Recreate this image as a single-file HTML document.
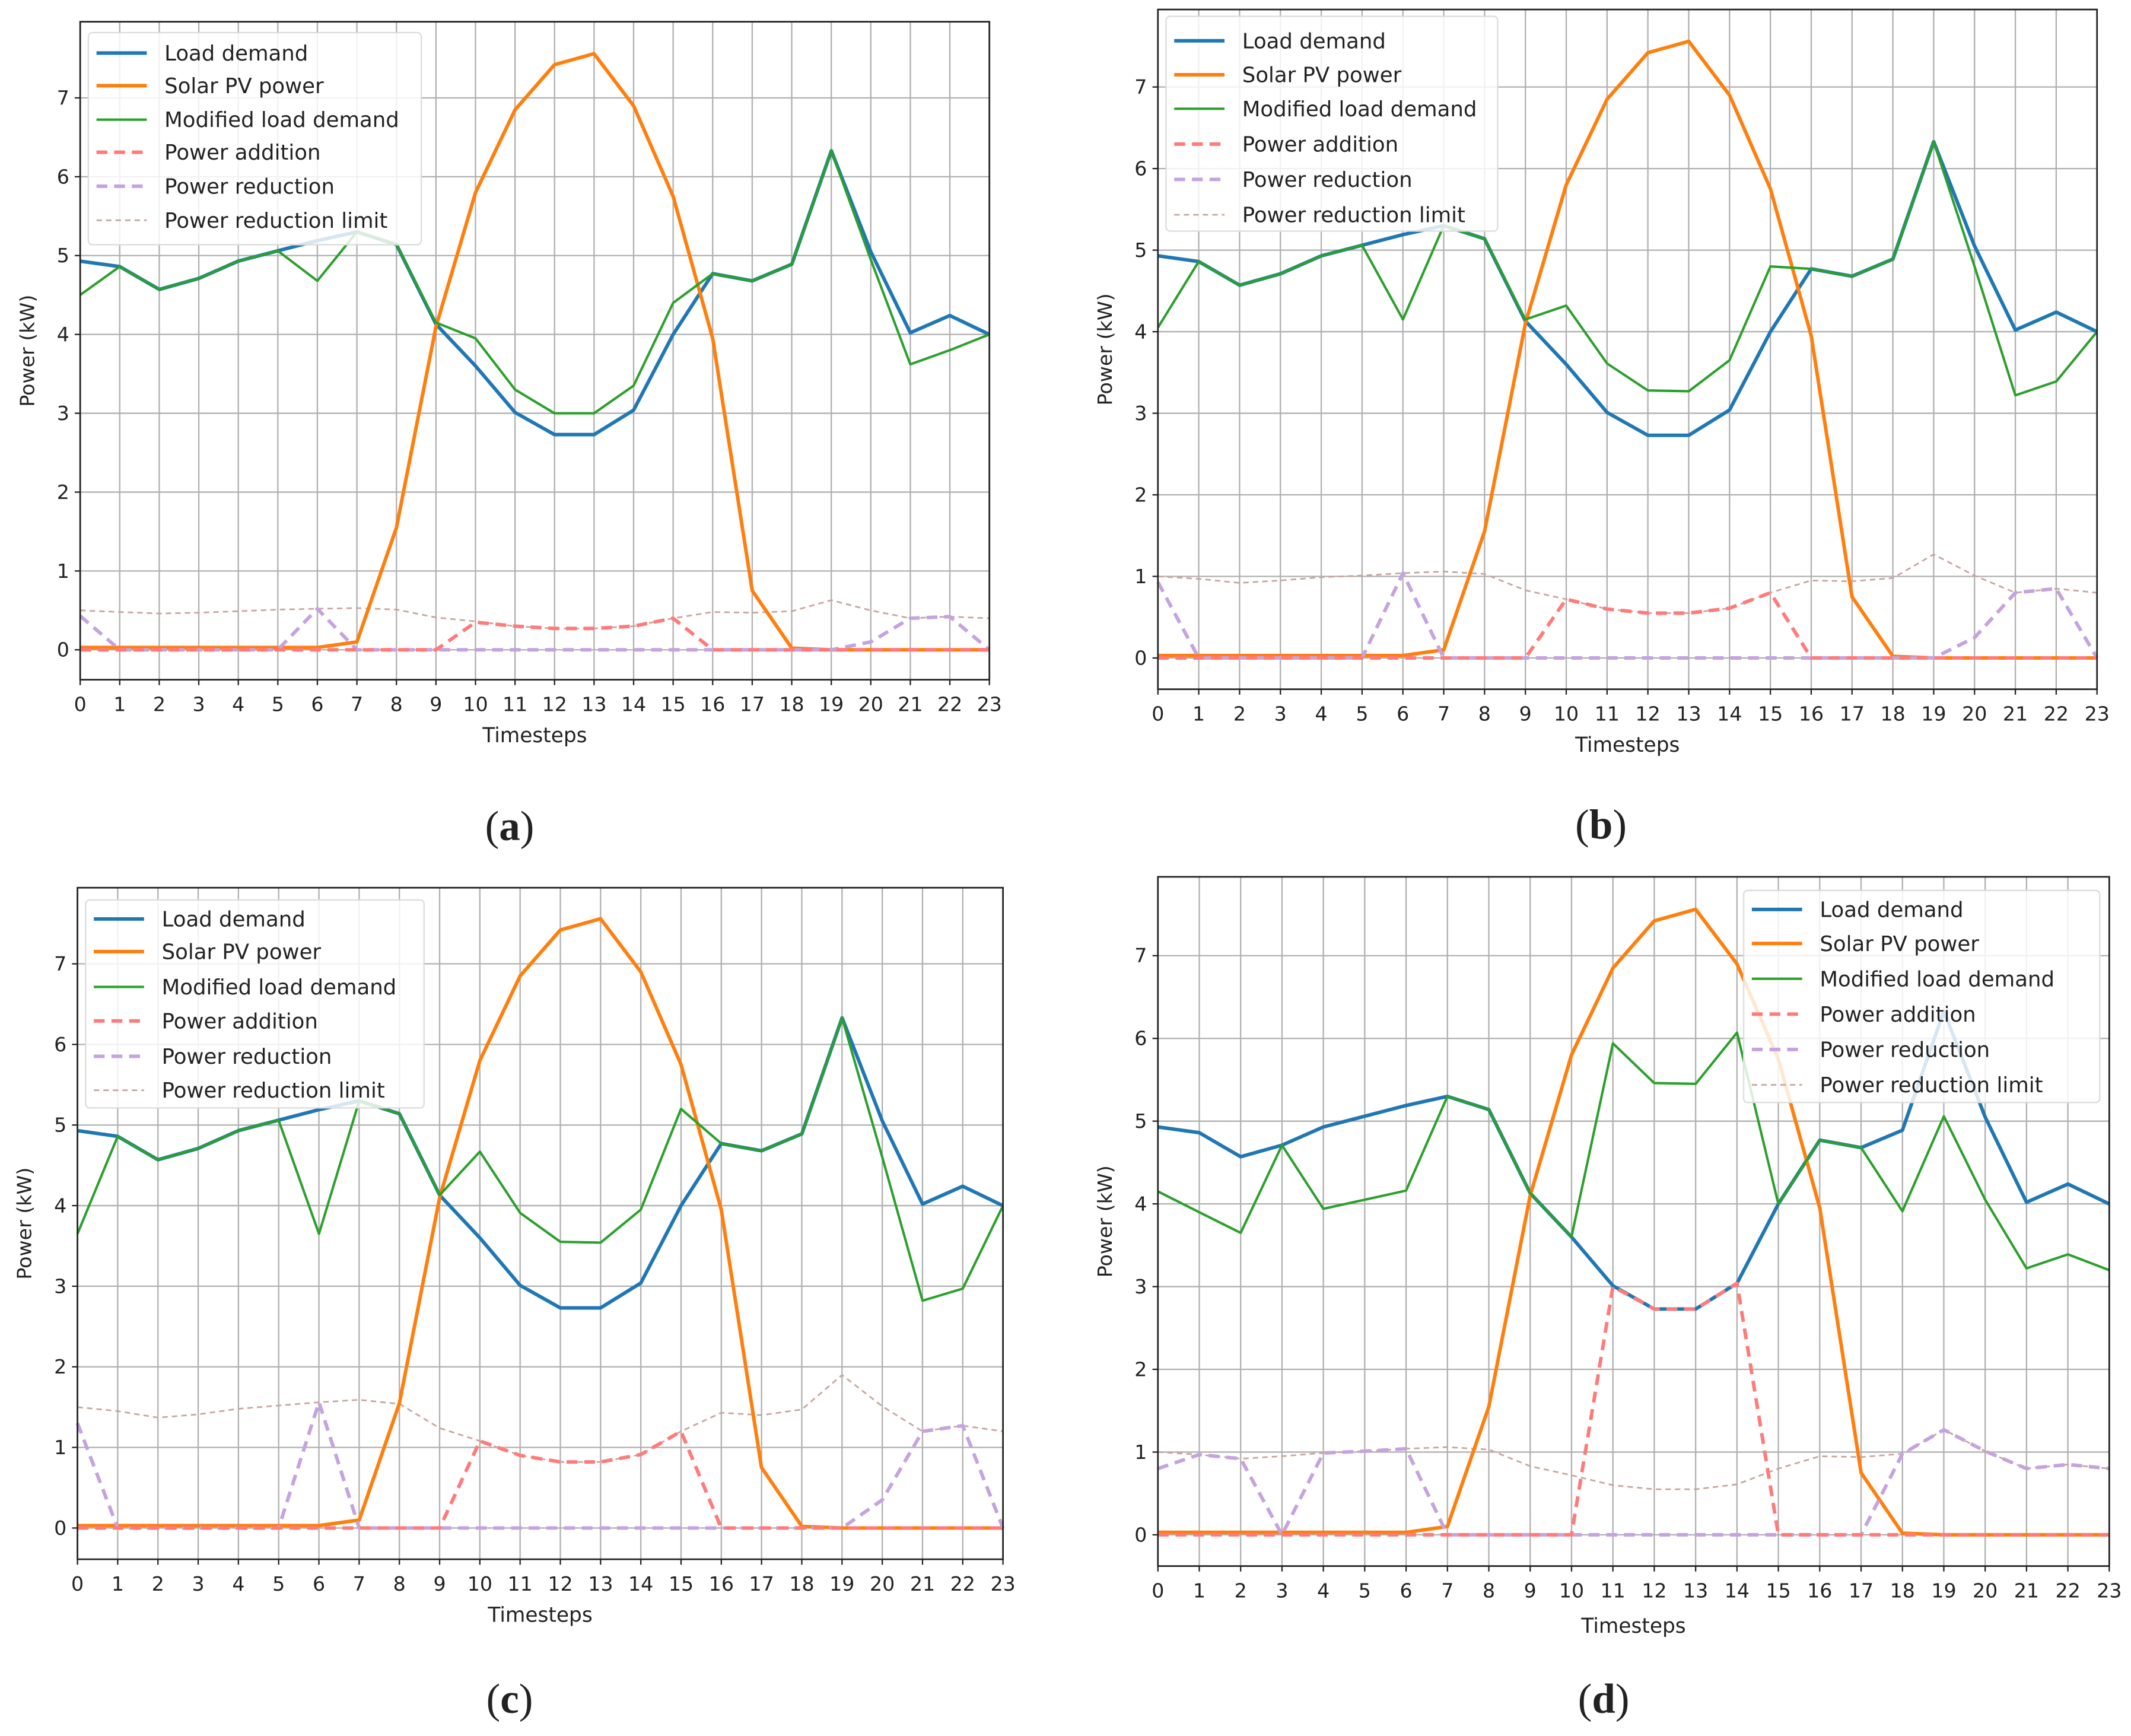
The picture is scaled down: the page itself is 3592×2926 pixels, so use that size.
<!DOCTYPE html>
<html><head><meta charset="utf-8"><style>
html,body{margin:0;padding:0;background:#fff;}
svg{display:block;}
text{font-family:"DejaVu Sans","Liberation Sans",sans-serif;fill:#222;}
.cap{font-family:"Liberation Serif",serif;}
</style></head><body>
<svg id="fig" width="3592" height="2926" viewBox="0 0 1568 1277" preserveAspectRatio="none" xmlns="http://www.w3.org/2000/svg"></svg>
<script>
const hours = [0,1,2,3,4,5,6,7,8,9,10,11,12,13,14,15,16,17,18,19,20,21,22,23];
const yTicks = [0,1,2,3,4,5,6,7];
const loadDemand = [4.93,4.86,4.57,4.71,4.93,5.06,5.19,5.3,5.14,4.13,3.6,3.01,2.73,2.73,3.04,4.0,4.77,4.68,4.89,6.33,5.05,4.02,4.24,4.0];
const solarPV = [0.03,0.03,0.03,0.03,0.03,0.03,0.03,0.1,1.55,4.1,5.8,6.85,7.42,7.56,6.9,5.75,3.95,0.75,0.02,0,0,0,0,0];
const modA = [4.5,4.86,4.57,4.71,4.93,5.06,4.68,5.3,5.14,4.15,3.95,3.3,3.0,3.0,3.35,4.4,4.77,4.68,4.89,6.33,4.95,3.62,3.8,4.0];
const addA = [0,0,0,0,0,0,0,0,0,0,0.35,0.3,0.27,0.27,0.3,0.4,0,0,0,0,0,0,0,0];
const redA = [0.43,0,0,0,0,0,0.52,0,0,0,0,0,0,0,0,0,0,0,0,0,0.1,0.4,0.42,0];
const limA = [0.5,0.48,0.46,0.47,0.49,0.51,0.52,0.53,0.51,0.41,0.36,0.3,0.27,0.27,0.3,0.4,0.48,0.47,0.49,0.63,0.5,0.4,0.42,0.4];
const modB = [4.05,4.86,4.57,4.71,4.93,5.06,4.15,5.3,5.14,4.15,4.32,3.61,3.28,3.27,3.65,4.8,4.77,4.68,4.89,6.33,4.8,3.22,3.39,4.0];
const addB = [0,0,0,0,0,0,0,0,0,0,0.72,0.6,0.55,0.55,0.61,0.8,0,0,0,0,0,0,0,0];
const redB = [0.93,0,0,0,0,0,1.04,0,0,0,0,0,0,0,0,0,0,0,0,0,0.25,0.8,0.85,0];
const limB = [1.0,0.97,0.92,0.95,0.99,1.01,1.04,1.06,1.03,0.83,0.72,0.6,0.55,0.55,0.61,0.8,0.95,0.94,0.98,1.27,1.01,0.8,0.85,0.8];
const modC = [3.65,4.86,4.57,4.71,4.93,5.06,3.65,5.3,5.14,4.13,4.67,3.91,3.55,3.54,3.95,5.2,4.77,4.68,4.89,6.33,4.6,2.82,2.97,4.0];
const addC = [0,0,0,0,0,0,0,0,0,0,1.08,0.9,0.82,0.82,0.91,1.2,0,0,0,0,0,0,0,0];
const redC = [1.3,0,0,0,0,0,1.56,0,0,0,0,0,0,0,0,0,0,0,0,0,0.35,1.2,1.27,0];
const limC = [1.5,1.45,1.37,1.41,1.48,1.52,1.56,1.59,1.54,1.24,1.08,0.9,0.82,0.82,0.91,1.2,1.43,1.4,1.47,1.9,1.51,1.2,1.27,1.2];
const modD = [4.15,3.9,3.65,4.71,3.94,4.05,4.16,5.3,5.14,4.13,3.6,5.94,5.46,5.45,6.07,4.0,4.77,4.68,3.91,5.06,4.05,3.22,3.39,3.2];
const addD = [0,0,0,0,0,0,0,0,0,0,0,3.0,2.73,2.73,3.04,0,0,0,0,0,0,0,0,0];
const redD = [0.8,0.97,0.92,0,0.99,1.01,1.04,0,0,0,0,0,0,0,0,0,0,0,0.98,1.27,1.01,0.8,0.85,0.8];
const limD = [1.0,0.97,0.92,0.95,0.99,1.01,1.04,1.06,1.03,0.83,0.72,0.6,0.55,0.55,0.61,0.8,0.95,0.94,0.98,1.27,1.01,0.8,0.85,0.8];
const legendLabels = ["Load demand","Solar PV power","Modified load demand","Power addition","Power reduction","Power reduction limit"];

const NS="http://www.w3.org/2000/svg";
const fig=document.getElementById('fig');
function mk(tag,attrs,parent){const e=document.createElementNS(NS,tag);for(const k in attrs)e.setAttribute(k,attrs[k]);(parent||fig).appendChild(e);return e;}

const panels=[
 {id:'a',L:59,R:728,T:16,y0:478,y7:72,B:500,tickY:518,xl:541,cap:[375,608],mod:modA,add:addA,red:redA,lim:limA,leg:{x:65,y:24,w:245,h:156,rows:[39,63,88,112,137,162]}},
 {id:'b',L:852,R:1543,T:7,y0:484,y7:64,B:507,tickY:525,xl:548,cap:[1178,607],mod:modB,add:addB,red:redB,lim:limB,leg:{x:858,y:12,w:244,h:158,rows:[30,55,80,106,132,158]}},
 {id:'c',L:57,R:738,T:653,y0:1124,y7:709,B:1147,tickY:1165,xl:1188,cap:[375,1250],mod:modC,add:addC,red:redC,lim:limC,leg:{x:63,y:662,w:249,h:153,rows:[676,700,726,751,777,802]}},
 {id:'d',L:852,R:1552,T:645,y0:1129,y7:703,B:1152,tickY:1170,xl:1196,cap:[1180,1250],mod:modD,add:addD,red:redD,lim:limD,leg:{x:1283,y:655,w:262,h:156,rows:[669,694,720,746,772,798]}}
];

panels.forEach(p=>{
  const g=mk('g',{});
  
  
  const xs=i=>p.L+(p.R-p.L)*i/23;
  const ys=v=>p.y0+(p.y7-p.y0)*v/7;
  hours.forEach(h=>{const l=mk('line',{x1:xs(h),x2:xs(h),y1:p.T,y2:p.B,stroke:'#b0b0b0','stroke-width':1},g);
    });
  yTicks.forEach(t=>{const l=mk('line',{x1:p.L,x2:p.R,y1:ys(t),y2:ys(t),stroke:'#b0b0b0','stroke-width':1},g);
    });
  function series(data,color,w,dash,name){
    const pts=data.map((v,i)=>xs(hours[i]).toFixed(1)+','+ys(v).toFixed(1)).join(' ');
    const a={points:pts,fill:'none',stroke:color,'stroke-width':w,'stroke-linejoin':'round'};
    if(dash)a['stroke-dasharray']=dash;
    const e=mk('polyline',a,g);
    
    
  }
  series(p.lim,'#c9a59d',1.2,'4,3','power-reduction-limit-line');
  series(loadDemand,'#1f77b4',2.6,null,'load-demand-line');
  series(solarPV,'#ff7f0e',2.6,null,'solar-pv-line');
  series(p.mod,'#2ca02c',1.8,null,'modified-load-line');
  series(p.red,'#c5a3df',2.6,'8,5','power-reduction-line');
  series(p.add,'#ff7b7b',2.6,'8,5','power-addition-line');
  const fr=mk('rect',{x:p.L,y:p.T,width:p.R-p.L,height:p.B-p.T,fill:'none',stroke:'#222','stroke-width':1.2},g);
  
  hours.forEach(h=>{
    mk('line',{x1:xs(h),x2:xs(h),y1:p.B,y2:p.B+4,stroke:'#222','stroke-width':1},g);
    const t=mk('text',{x:xs(h),y:p.tickY+5,'text-anchor':'middle','font-size':14.5},g);
    t.textContent=h;
  });
  yTicks.forEach(v=>{
    mk('line',{x1:p.L-4,x2:p.L,y1:ys(v),y2:ys(v),stroke:'#222','stroke-width':1},g);
    const t=mk('text',{x:p.L-8,y:ys(v)+5,'text-anchor':'end','font-size':14.5},g);
    t.textContent=v;
  });
  const xt=mk('text',{x:(p.L+p.R)/2,y:p.xl+5,'text-anchor':'middle','font-size':15},g);
  xt.textContent='Timesteps';
  const cy=(p.T+p.B)/2;
  const yt=mk('text',{x:p.L-34,y:cy,'text-anchor':'middle','font-size':14.5,transform:`rotate(-90 ${p.L-34} ${cy})`},g);
  yt.textContent='Power (kW)';
  const lg=mk('g',{},g);
  mk('rect',{x:p.leg.x,y:p.leg.y,width:p.leg.w,height:p.leg.h,rx:3,fill:'rgba(255,255,255,0.82)',stroke:'#dcdcdc','stroke-width':1},lg);
  const st=[['#1f77b4',2.6,null],['#ff7f0e',2.6,null],['#2ca02c',1.8,null],['#ff7b7b',2.6,'8,5'],['#c5a3df',2.6,'8,5'],['#c9a59d',1.2,'4,3']];
  legendLabels.forEach((lab,i)=>{
    const ry=p.leg.rows[i];
    const a={x1:p.leg.x+6,x2:p.leg.x+43,y1:ry,y2:ry,stroke:st[i][0],'stroke-width':st[i][1]};
    if(st[i][2])a['stroke-dasharray']=st[i][2];
    mk('line',a,lg);
    const t=mk('text',{x:p.leg.x+56,y:ry+5.5,'font-size':15.5},lg);
    t.textContent=lab;
  });
  const c=mk('text',{x:p.cap[0],y:p.cap[1]+10,'text-anchor':'middle','font-size':31,class:'cap'},g);
  c.innerHTML='(<tspan font-weight="bold">'+p.id+'</tspan>)';
  
});
</script>
</body></html>
